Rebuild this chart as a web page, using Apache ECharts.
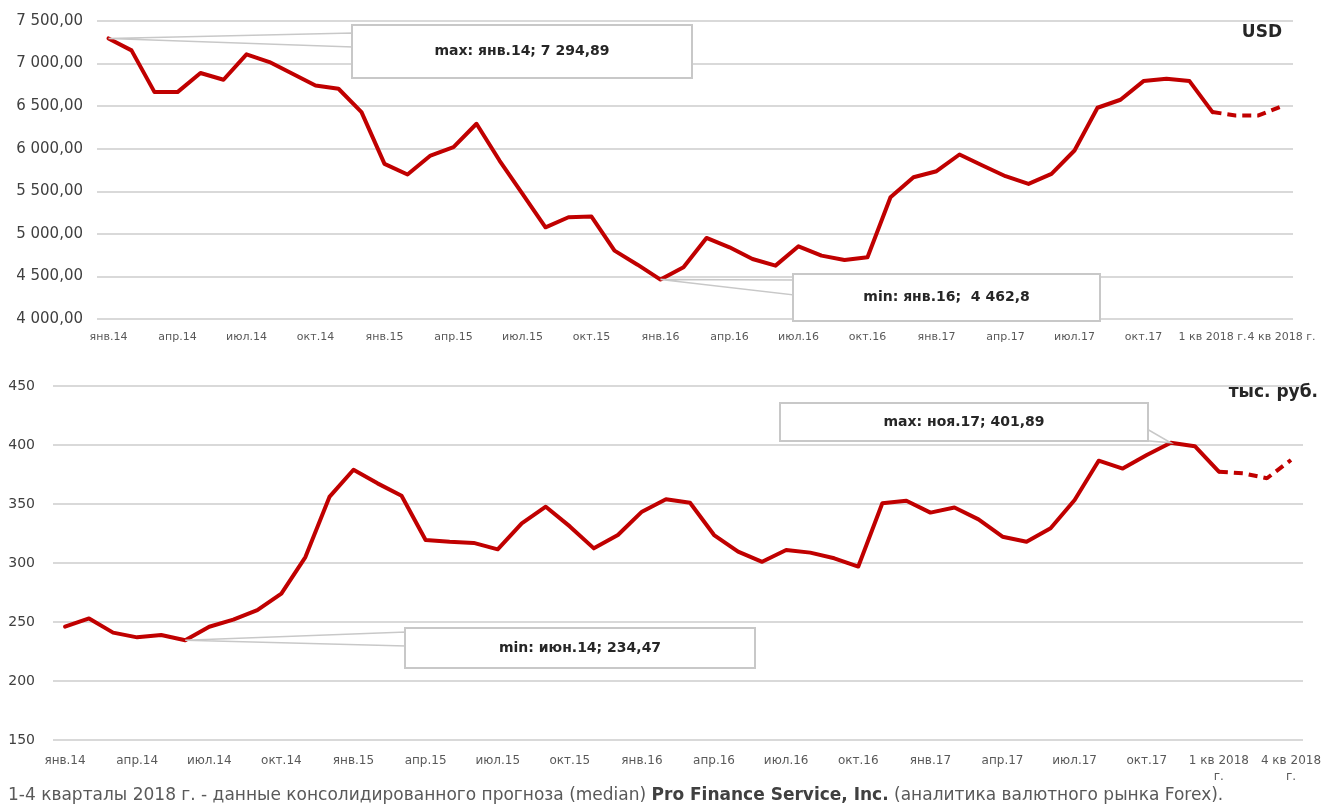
<!DOCTYPE html>
<html lang="ru">
<head>
    <meta charset="UTF-8">
    <title>USD / тыс. руб.</title>
    <script type="text/javascript" src="https://cdn.jsdelivr.net/npm/echarts@6.0.0/dist/echarts.min.js"></script>
    <style>
        html, body { margin: 0; padding: 0; background: #fff; }
        #main { width: 1341px; height: 808px; }
    </style>
</head>
<body>
<div id="main"></div>
<script>

    // категории: 48 месяцев + 4 квартала прогноза
    var months = [
        'янв.14', 'фев.14', 'мар.14', 'апр.14', 'май.14', 'июн.14', 'июл.14', 'авг.14', 'сен.14', 'окт.14', 'ноя.14', 'дек.14',
        'янв.15', 'фев.15', 'мар.15', 'апр.15', 'май.15', 'июн.15', 'июл.15', 'авг.15', 'сен.15', 'окт.15', 'ноя.15', 'дек.15',
        'янв.16', 'фев.16', 'мар.16', 'апр.16', 'май.16', 'июн.16', 'июл.16', 'авг.16', 'сен.16', 'окт.16', 'ноя.16', 'дек.16',
        'янв.17', 'фев.17', 'мар.17', 'апр.17', 'май.17', 'июн.17', 'июл.17', 'авг.17', 'сен.17', 'окт.17', 'ноя.17', 'дек.17',
        '1 кв 2018 г.', '2 кв 2018 г.', '3 кв 2018 г.', '4 кв 2018 г.'
    ];

    var usdValues = [
        7294.89, 7155, 6665, 6665, 6889, 6810, 7108, 7018, 6880, 6743, 6704, 6430,
        5822, 5697, 5920, 6018, 6293, 5861, 5470, 5077, 5195, 5203, 4803, 4638,
        4462.8, 4607, 4952, 4842, 4705, 4627, 4854, 4744, 4693, 4725, 5430, 5665,
        5736, 5932, 5803, 5677, 5587, 5705, 5979, 6481, 6575, 6794, 6822, 6794,
        6430, 6391, 6391, 6497
    ];

    var rubValues = [
        246, 253, 241, 237, 239, 234.47, 246, 252, 260, 274, 305, 356,
        379, 367.5, 357, 319.5, 318, 317, 311.6, 333.6, 347.7, 331, 312.4, 323.7,
        343.5, 354, 351, 323.7, 309.6, 301, 311, 308.8, 304, 297, 350.6, 352.8,
        342.7, 347, 337, 322.3, 318, 329.4, 353.4, 386.7, 380, 391.5, 401.89, 399,
        377.4, 376, 371.8, 387.3
    ];

    var usdTicks = [4000, 7500, 500];   // min, max, шаг
    var rubTicks = [150, 450, 50];

    var forecastStart = 48;  // первый квартал 2018 - начало прогноза

    var RED = '#c00000';

    function fmtNum(v, dec, trim) {
        var s = v.toFixed(dec);
        if (trim) s = s.replace(/0+$/, '').replace(/\.$/, '');
        var parts = s.split('.');
        var i = parts[0].replace(/\B(?=(\d{3})+(?!\d))/g, ' ');
        return parts[1] ? i + ',' + parts[1] : i;
    }

    function solidPart(arr) {
        return arr.map(function (v, i) { return i <= forecastStart ? v : '-'; });
    }
    function dashedPart(arr) {
        return arr.map(function (v, i) { return i >= forecastStart ? v : '-'; });
    }

    var myChart = echarts.init(document.getElementById('main'));

    var labelFont = 'DejaVu Sans';

    option = {
        animation: false,
        backgroundColor: '#fff',
        grid: [
            {left: 97, right: 48, top: 21, height: 298},
            {left: 53, right: 38, top: 386, height: 354}
        ],
        xAxis: [
            {
                type: 'category', gridIndex: 0, data: months, boundaryGap: true,
                axisLine: {show: false}, axisTick: {show: false},
                axisLabel: {
                    interval: 2, hideOverlap: false, margin: 13,
                    fontFamily: labelFont, fontSize: 11, color: '#595959'
                }
            },
            {
                type: 'category', gridIndex: 1, data: months, boundaryGap: true,
                axisLine: {show: false}, axisTick: {show: false},
                axisLabel: {
                    interval: 2, hideOverlap: false, margin: 13,
                    fontFamily: labelFont, fontSize: 12, color: '#595959', lineHeight: 16,
                    formatter: function (v) { return v.replace(' г.', '\nг.'); }
                }
            }
        ],
        yAxis: [
            {
                type: 'value', gridIndex: 0,
                min: usdTicks[0], max: usdTicks[1], interval: usdTicks[2],
                axisLine: {show: false}, axisTick: {show: false},
                splitLine: {lineStyle: {color: '#d9d9d9', width: 2}},
                axisLabel: {
                    margin: 14, fontFamily: labelFont, fontSize: 15, color: '#404040',
                    formatter: function (v) { return fmtNum(v, 2, false); }
                }
            },
            {
                type: 'value', gridIndex: 1,
                min: rubTicks[0], max: rubTicks[1], interval: rubTicks[2],
                axisLine: {show: false}, axisTick: {show: false},
                splitLine: {lineStyle: {color: '#d9d9d9', width: 2}},
                axisLabel: {
                    margin: 18, fontFamily: labelFont, fontSize: 14, color: '#404040'
                }
            }
        ],
        series: [
            {
                name: 'USD', type: 'line', xAxisIndex: 0, yAxisIndex: 0,
                data: solidPart(usdValues), showSymbol: false, symbol: 'none',
                lineStyle: {color: RED, width: 4, cap: 'round', join: 'round'}
            },
            {
                name: 'USD прогноз', type: 'line', xAxisIndex: 0, yAxisIndex: 0,
                data: dashedPart(usdValues), showSymbol: false, symbol: 'none',
                lineStyle: {color: RED, width: 4, type: [9, 6]}
            },
            {
                name: 'тыс. руб.', type: 'line', xAxisIndex: 1, yAxisIndex: 1,
                data: solidPart(rubValues), showSymbol: false, symbol: 'none',
                lineStyle: {color: RED, width: 4, cap: 'round', join: 'round'}
            },
            {
                name: 'тыс. руб. прогноз', type: 'line', xAxisIndex: 1, yAxisIndex: 1,
                data: dashedPart(rubValues), showSymbol: false, symbol: 'none',
                lineStyle: {color: RED, width: 4, type: [9, 6]}
            }
        ]
    };

    myChart.setOption(option);

    // подписи max / min с выносками
    function extreme(arr, isMax) {
        var k = 0;
        for (var i = 1; i < arr.length; i++) {
            if (isMax ? arr[i] > arr[k] : arr[i] < arr[k]) k = i;
        }
        return k;
    }

    function callout(seriesIndex, idx, val, box, wedge, text) {
        var p = myChart.convertToPixel({seriesIndex: seriesIndex}, [idx, val]);
        var pts;
        if (wedge.side === 'left') {
            pts = [p, [box.x + 1, box.y + wedge.a], [box.x + 1, box.y + wedge.b]];
        } else {
            pts = [p, [box.x + box.w - 10, box.y + box.h - 1], [box.x + box.w - 1, box.y + box.h - 12]];
        }
        return [
            {
                type: 'polygon', z: 10,
                shape: {points: pts},
                style: {fill: '#fff', stroke: '#c8c8c8', lineWidth: 1.5}
            },
            {
                type: 'rect', z: 11,
                shape: {x: box.x, y: box.y, width: box.w, height: box.h},
                style: {fill: '#fff', stroke: '#c8c8c8', lineWidth: 2}
            },
            {
                type: 'text', z: 12,
                x: box.x + box.w / 2, y: box.y + box.h / 2,
                style: {
                    text: text, fill: '#262626', align: 'center', verticalAlign: 'middle',
                    font: 'bold 14px "DejaVu Sans"'
                }
            }
        ];
    }

    var uMax = extreme(usdValues, true), uMin = extreme(usdValues, false);
    var rMax = extreme(rubValues, true), rMin = extreme(rubValues, false);

    var graphics = [].concat(
        callout(0, uMax, usdValues[uMax], {x: 352, y: 25, w: 340, h: 53}, {side: 'left', a: 8, b: 22},
            'max: ' + months[uMax] + '; ' + fmtNum(usdValues[uMax], 2, true)),
        callout(0, uMin, usdValues[uMin], {x: 793, y: 274, w: 307, h: 47}, {side: 'left', a: 6, b: 21},
            'min: ' + months[uMin] + ';  ' + fmtNum(usdValues[uMin], 2, true)),
        callout(2, rMax, rubValues[rMax], {x: 780, y: 403, w: 368, h: 38}, {side: 'corner'},
            'max: ' + months[rMax] + '; ' + fmtNum(rubValues[rMax], 2, true)),
        callout(2, rMin, rubValues[rMin], {x: 405, y: 628, w: 350, h: 40}, {side: 'left', a: 4, b: 18},
            'min: ' + months[rMin] + '; ' + fmtNum(rubValues[rMin], 2, true)),
        [
            {
                type: 'text', z: 12, x: 1282, y: 33,
                style: {text: 'USD', fill: '#262626', align: 'right', verticalAlign: 'middle',
                    font: 'bold 17px "DejaVu Sans"'}
            },
            {
                type: 'text', z: 12, x: 1318, y: 393,
                style: {text: 'тыс. руб.', fill: '#262626', align: 'right', verticalAlign: 'middle',
                    font: 'bold 17px "DejaVu Sans"'}
            },
            {
                type: 'text', x: 8, y: 796,
                style: {
                    text: '{n|1-4 кварталы 2018 г. - данные консолидированного прогноза (median) }{b|Pro Finance Service, Inc.}{n| (аналитика валютного рынка Forex).}',
                    verticalAlign: 'middle',
                    rich: {
                        n: {fontFamily: 'DejaVu Sans', fontSize: 17, fill: '#595959'},
                        b: {fontFamily: 'DejaVu Sans', fontSize: 17, fontWeight: 'bold', fill: '#404040'}
                    }
                }
            }
        ]
    );

    myChart.setOption({graphic: graphics});

</script>
</body>
</html>
